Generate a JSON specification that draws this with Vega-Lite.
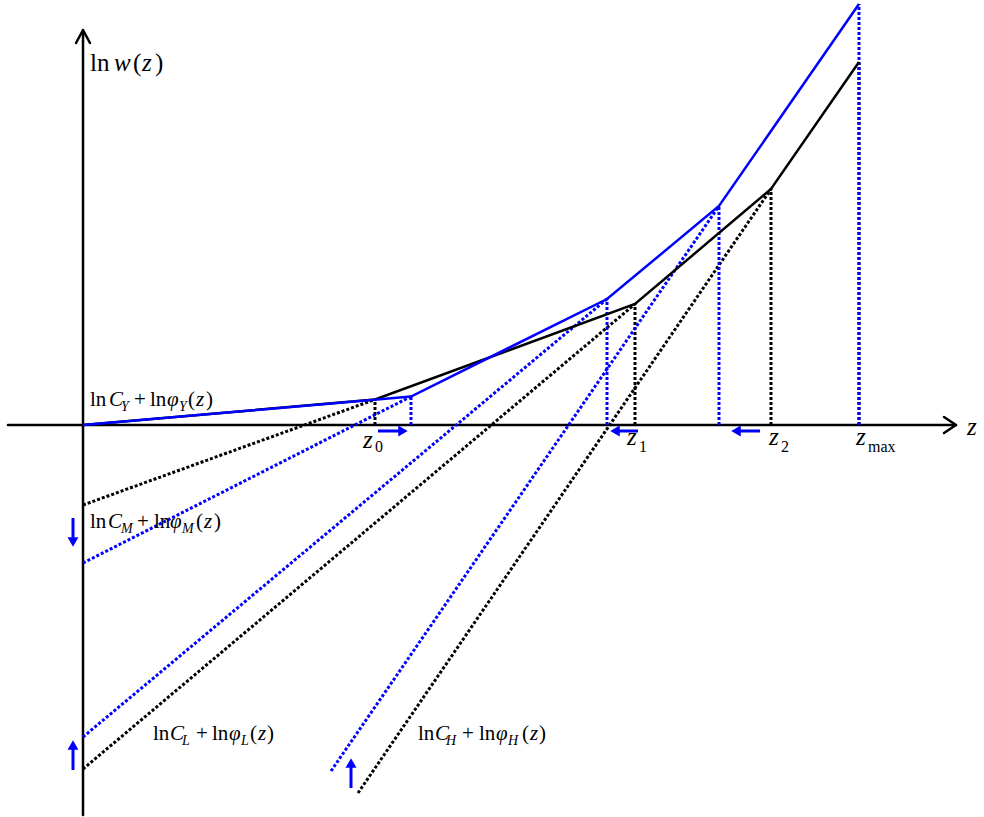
{
  "$schema": "https://vega.github.io/schema/vega-lite/v6.json",
  "width": 984,
  "height": 817,
  "padding": 0,
  "autosize": {"type": "none"},
  "background": "white",
  "config": {"view": {"stroke": null}},
  "datasets": {
    "axes": [
      {"z": -7.5, "w": 0, "z2": 87.1, "w2": 0},
      {"z": 0, "w": -39.0, "z2": 0, "w2": 39.3},
      {"z": 86.1, "w": 0.8, "z2": 87.3, "w2": 0},
      {"z": 86.1, "w": -0.8, "z2": 87.3, "w2": 0},
      {"z": -0.7, "w": 38.2, "z2": 0, "w2": 39.5},
      {"z": 0.7, "w": 38.2, "z2": 0, "w2": 39.5}
    ],
    "solidBlack": [
      {"z": 0, "w": 0}, {"z": 29.2, "w": 2.55}, {"z": 55.2, "w": 12.1}, {"z": 68.8, "w": 23.6}, {"z": 77.6, "w": 36.3}
    ],
    "solidBlue": [
      {"z": 0, "w": 0}, {"z": 32.8, "w": 2.85}, {"z": 52.4, "w": 12.6}, {"z": 63.6, "w": 21.9}, {"z": 77.6, "w": 42.1}
    ],
    "dotBlack": [
      {"z": 0, "w": -8.0, "z2": 29.2, "w2": 2.55},
      {"z": 0, "w": -34.4, "z2": 55.2, "w2": 12.1},
      {"z": 27.5, "w": -36.8, "z2": 68.8, "w2": 23.6},
      {"z": 29.2, "w": 0, "z2": 29.2, "w2": 2.55},
      {"z": 55.2, "w": 0, "z2": 55.2, "w2": 12.1},
      {"z": 68.8, "w": 0, "z2": 68.8, "w2": 23.6},
      {"z": 77.6, "w": 0, "z2": 77.6, "w2": 36.3}
    ],
    "dotBlue": [
      {"z": 0, "w": -13.8, "z2": 32.8, "w2": 2.85},
      {"z": 0, "w": -31.2, "z2": 52.4, "w2": 12.6},
      {"z": 24.8, "w": -34.6, "z2": 63.6, "w2": 21.9},
      {"z": 32.8, "w": 0, "z2": 32.8, "w2": 2.85},
      {"z": 52.4, "w": 0, "z2": 52.4, "w2": 12.6},
      {"z": 63.6, "w": 0, "z2": 63.6, "w2": 21.9},
      {"z": 77.6, "w": 0, "z2": 77.6, "w2": 42.1}
    ],
    "arrowShafts": [
      {"z": 29.5, "w": -0.6, "z2": 31.7, "w2": -0.6},
      {"z": 53.5, "w": -0.6, "z2": 55.5, "w2": -0.6},
      {"z": 65.6, "w": -0.6, "z2": 67.7, "w2": -0.6},
      {"z": -1.0, "w": -9.3, "z2": -1.0, "w2": -11.4},
      {"z": -1.0, "w": -32.3, "z2": -1.0, "w2": -34.5},
      {"z": 26.8, "w": -34.1, "z2": 26.8, "w2": -36.3}
    ],
    "arrowHeads": [
      {"z": 32.0, "w": -0.6, "dir": "right"},
      {"z": 53.2, "w": -0.6, "dir": "left"},
      {"z": 65.3, "w": -0.6, "dir": "left"},
      {"z": -1.0, "w": -11.7, "dir": "down"},
      {"z": -1.0, "w": -32.0, "dir": "up"},
      {"z": 26.8, "w": -33.8, "dir": "up"}
    ],
    "up21": [
      {"z": 0.7, "w": 1.9, "t": "ln"}, {"z": 5.1, "w": 1.9, "t": "+"}, {"z": 6.7, "w": 1.9, "t": "ln"}, {"z": 10.5, "w": 1.9, "t": "("}, {"z": 12.3, "w": 1.9, "t": ")"},
      {"z": 0.7, "w": -10.3, "t": "ln"}, {"z": 5.4, "w": -10.3, "t": "+"}, {"z": 7.1, "w": -10.3, "t": "ln"}, {"z": 11.3, "w": -10.3, "t": "("}, {"z": 13.1, "w": -10.3, "t": ")"},
      {"z": 7.0, "w": -31.5, "t": "ln"}, {"z": 11.3, "w": -31.5, "t": "+"}, {"z": 12.9, "w": -31.5, "t": "ln"}, {"z": 16.7, "w": -31.5, "t": "("}, {"z": 18.4, "w": -31.5, "t": ")"},
      {"z": 33.5, "w": -31.5, "t": "ln"}, {"z": 37.9, "w": -31.5, "t": "+"}, {"z": 39.6, "w": -31.5, "t": "ln"}, {"z": 43.9, "w": -31.5, "t": "("}, {"z": 45.6, "w": -31.5, "t": ")"}
    ],
    "it21": [
      {"z": 2.6, "w": 1.9, "t": "C"}, {"z": 8.4, "w": 1.9, "t": "φ"}, {"z": 11.3, "w": 1.9, "t": "z"},
      {"z": 2.5, "w": -10.3, "t": "C"}, {"z": 8.7, "w": -10.3, "t": "φ"}, {"z": 12.1, "w": -10.3, "t": "z"},
      {"z": 8.7, "w": -31.5, "t": "C"}, {"z": 14.6, "w": -31.5, "t": "φ"}, {"z": 17.5, "w": -31.5, "t": "z"},
      {"z": 35.2, "w": -31.5, "t": "C"}, {"z": 41.3, "w": -31.5, "t": "φ"}, {"z": 44.7, "w": -31.5, "t": "z"}
    ],
    "sub14": [
      {"z": 3.8, "w": 1.4, "t": "Y"}, {"z": 9.6, "w": 1.4, "t": "Y"},
      {"z": 3.8, "w": -10.8, "t": "M"}, {"z": 9.9, "w": -10.8, "t": "M"},
      {"z": 9.9, "w": -32.0, "t": "L"}, {"z": 15.8, "w": -32.0, "t": "L"},
      {"z": 36.3, "w": -32.0, "t": "H"}, {"z": 42.5, "w": -32.0, "t": "H"}
    ],
    "up25": [
      {"z": 0.7, "w": 35.4, "t": "ln"}, {"z": 5.0, "w": 35.4, "t": "("}, {"z": 7.2, "w": 35.4, "t": ")"}
    ],
    "it25": [
      {"z": 3.1, "w": 35.4, "t": "w"}, {"z": 5.9, "w": 35.4, "t": "z"},
      {"z": 28.0, "w": -2.3, "t": "z"}, {"z": 54.4, "w": -2.0, "t": "z"}, {"z": 68.6, "w": -2.0, "t": "z"}, {"z": 77.3, "w": -2.0, "t": "z"},
      {"z": 88.4, "w": -1.0, "t": "z"}
    ],
    "sub16": [
      {"z": 29.2, "w": -2.7, "t": "0"}, {"z": 55.6, "w": -2.7, "t": "1"}, {"z": 69.8, "w": -2.7, "t": "2"}, {"z": 78.5, "w": -2.7, "t": "max"}
    ]
  },
  "encoding": {
    "x": {"field": "z", "type": "quantitative", "axis": null, "scale": {"domain": [-8.3, 90.1], "nice": false, "zero": false}},
    "y": {"field": "w", "type": "quantitative", "axis": null, "scale": {"domain": [-39.2, 42.5], "nice": false, "zero": false}}
  },
  "layer": [
    {"data": {"name": "axes"}, "mark": {"type": "rule", "color": "black", "strokeWidth": 2.5, "strokeCap": "round"},
     "encoding": {"x2": {"field": "z2"}, "y2": {"field": "w2"}}},
    {"data": {"name": "dotBlack"}, "mark": {"type": "rule", "color": "black", "strokeWidth": 3, "strokeDash": [3, 2]},
     "encoding": {"x2": {"field": "z2"}, "y2": {"field": "w2"}}},
    {"data": {"name": "dotBlue"}, "mark": {"type": "rule", "color": "#0000ff", "strokeWidth": 3, "strokeDash": [3, 2]},
     "encoding": {"x2": {"field": "z2"}, "y2": {"field": "w2"}}},
    {"data": {"name": "solidBlack"}, "mark": {"type": "line", "color": "black", "strokeWidth": 2.5, "strokeJoin": "miter"}, "encoding": {}},
    {"data": {"name": "solidBlue"}, "mark": {"type": "line", "color": "#0000ff", "strokeWidth": 2.5, "strokeJoin": "miter"}, "encoding": {}},
    {"data": {"name": "arrowShafts"}, "mark": {"type": "rule", "color": "#0000ff", "strokeWidth": 3},
     "encoding": {"x2": {"field": "z2"}, "y2": {"field": "w2"}}},
    {"data": {"name": "arrowHeads"}, "mark": {"type": "point", "filled": true, "color": "#0000ff", "size": 120, "opacity": 1},
     "encoding": {"shape": {"field": "dir", "type": "nominal", "legend": null,
       "scale": {"domain": ["up", "down", "left", "right"], "range": ["triangle-up", "triangle-down", "triangle-left", "triangle-right"]}}}},
    {"data": {"name": "up21"}, "mark": {"type": "text", "font": "Liberation Serif", "fontSize": 21, "align": "left", "baseline": "alphabetic", "color": "black"},
     "encoding": {"text": {"field": "t"}}},
    {"data": {"name": "it21"}, "mark": {"type": "text", "font": "Liberation Serif", "fontSize": 21, "fontStyle": "italic", "align": "left", "baseline": "alphabetic", "color": "black"},
     "encoding": {"text": {"field": "t"}}},
    {"data": {"name": "sub14"}, "mark": {"type": "text", "font": "Liberation Serif", "fontSize": 14, "fontStyle": "italic", "align": "left", "baseline": "alphabetic", "color": "black"},
     "encoding": {"text": {"field": "t"}}},
    {"data": {"name": "up25"}, "mark": {"type": "text", "font": "Liberation Serif", "fontSize": 25, "align": "left", "baseline": "alphabetic", "color": "black"},
     "encoding": {"text": {"field": "t"}}},
    {"data": {"name": "it25"}, "mark": {"type": "text", "font": "Liberation Serif", "fontSize": 25, "fontStyle": "italic", "align": "left", "baseline": "alphabetic", "color": "black"},
     "encoding": {"text": {"field": "t"}}},
    {"data": {"name": "sub16"}, "mark": {"type": "text", "font": "Liberation Serif", "fontSize": 16, "align": "left", "baseline": "alphabetic", "color": "black"},
     "encoding": {"text": {"field": "t"}}}
  ]
}
